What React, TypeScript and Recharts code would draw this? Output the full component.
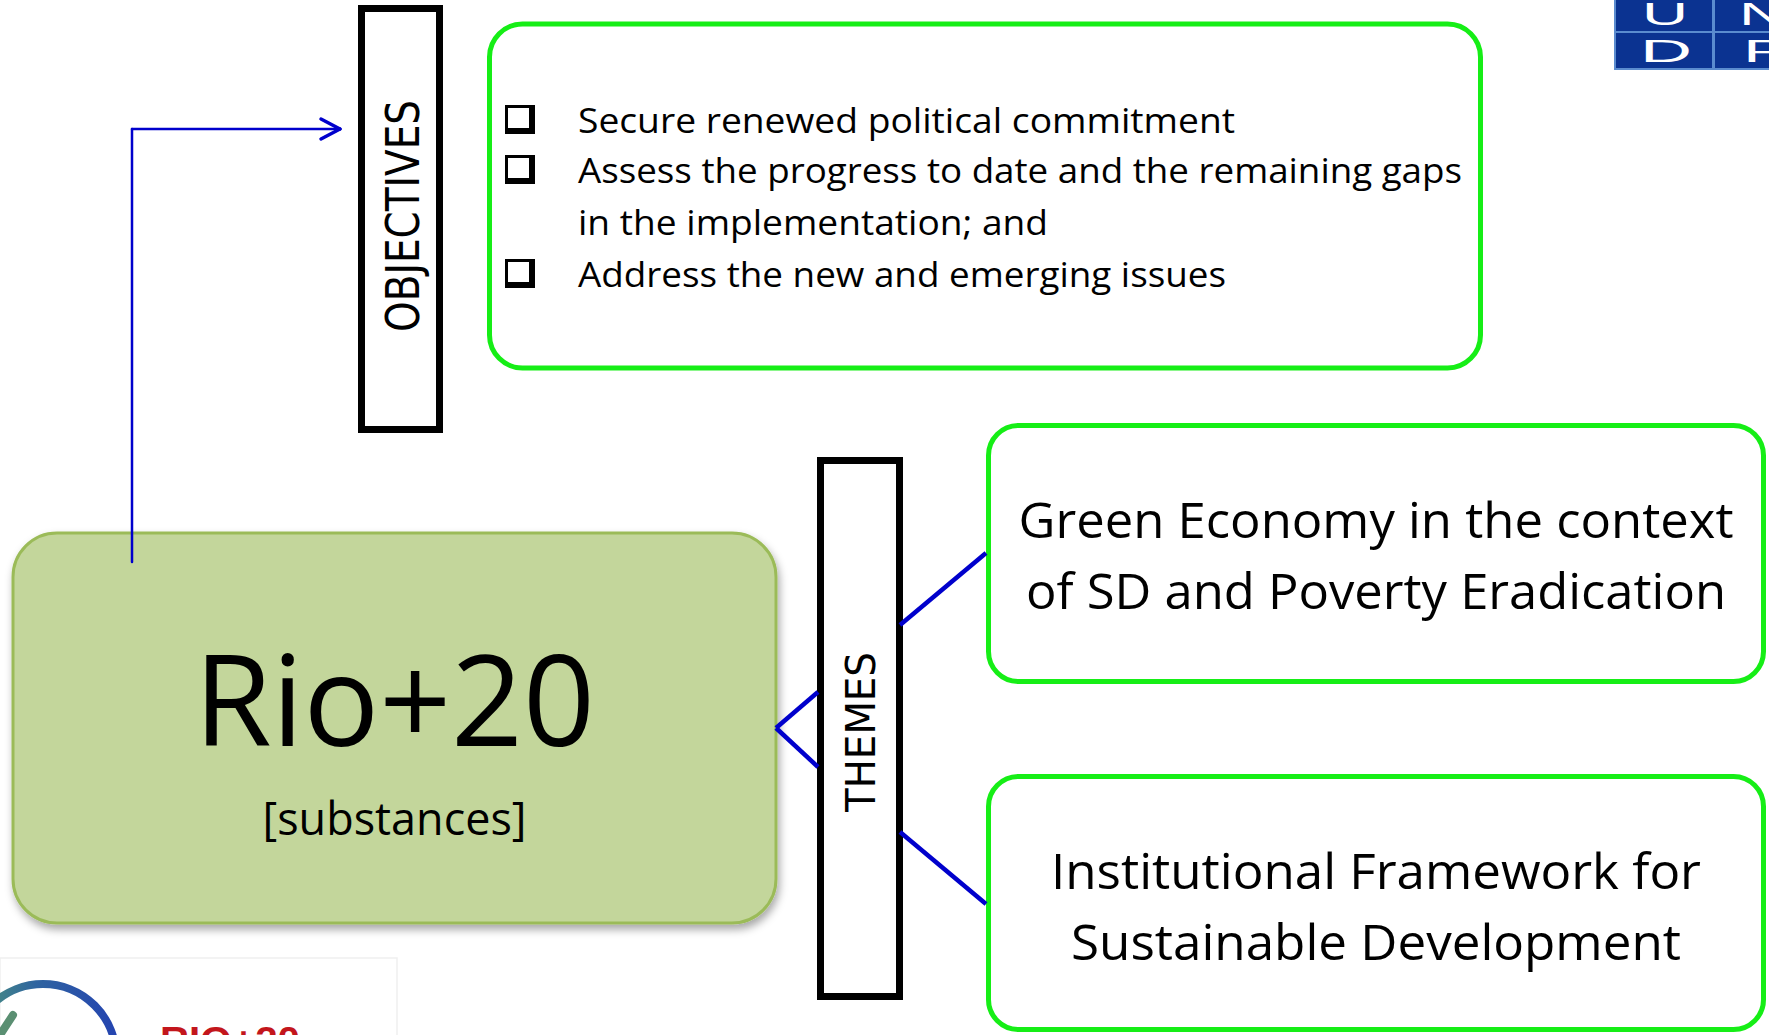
import React from 'react';
import { ComposedChart, XAxis, YAxis, ReferenceArea, ReferenceLine } from 'recharts';

// ---------- content ----------
const hubTitle = 'Rio+20';
const hubSubtitle = '[substances]';
const sideLabels = ['OBJECTIVES', 'THEMES'];
const objectiveLines = [
  'Secure renewed political commitment',
  'Assess the progress to date and the remaining gaps',
  'in the implementation; and',
  'Address the new and emerging issues',
];
const objectiveBullets = [true, true, false, true];
const themeTitles = [
  ['Green Economy in the context', 'of SD and Poverty Eradication'],
  ['Institutional Framework for', 'Sustainable Development'],
];
const logoLetters = ['U', 'N', 'D', 'P'];
const footerLogoText = 'RIO+20';

// ---------- layout / style ----------
const W = 1769;
const H = 1035;
const BODY_FONT = "'Open Sans', 'Noto Sans', sans-serif";
const LABEL_FONT = "'DejaVu Sans', sans-serif";
const GREEN = '#16ee16';
const BLUE = '#0000cc';

const objLabel = { x1: 361.5, x2: 439.5, y1: 8.5, y2: 429.5, tx: 57.5, ty: 207.5, len: 232, fs: 47 };
const themeLabel = { x1: 820.5, x2: 899.5, y1: 460.5, y2: 996.5, tx: 54.5, ty: 271.5, len: 160, fs: 41 };
const objBox = { x1: 489.5, x2: 1480.5, y1: 24, y2: 368, r: 33 };
const objText = { dx: 88.5, baselines: [109, 159, 211, 263], widths: [657, 884, 470, 648], fs: 35, boxDx: 15.5 };
const hub = { x1: 13, x2: 776, y1: 533, y2: 923, r: 44, titleDy: 213, titleW: 401, titleFs: 127, subDy: 302, subW: 264, subFs: 46 };
const themeBoxes = [
  { x1: 988.5, x2: 1763.5, y1: 425.5, y2: 681.5, widths: [715, 700] },
  { x1: 988.5, x2: 1763.5, y1: 776.5, y2: 1029.5, widths: [650, 610] },
];
const themeText = { baselines: [112, 183.5], fs: 49, r: 30 };
const connectors = [
  [[776, 728], [818, 692]],
  [[776, 728], [818, 767]],
  [[900, 625], [986, 553]],
  [[900, 832], [986, 904]],
];
const arrowPath = [
  [[132, 562], [132, 129]],
  [[132, 129], [339, 129]],
  [[321, 119], [340, 129]],
  [[321, 139], [340, 129]],
];
const undp = { x1: 1615, x2: 1769, y1: 0, y2: 69 };
const footer = { x1: 0, x2: 397, y1: 958, y2: 1035 };

const LabelBox = (cfg: any, text: string) => (p: any) => {
  const tx = p.x + cfg.tx;
  const ty = p.y + cfg.ty;
  return (
    <g>
      <rect x={p.x} y={p.y} width={p.width} height={p.height} fill="#fff" stroke="#000" strokeWidth={7} />
      <text
        x={tx}
        y={ty}
        transform={`rotate(-90 ${tx} ${ty})`}
        textAnchor="middle"
        fontFamily={LABEL_FONT}
        fontSize={cfg.fs}
        textLength={cfg.len}
        lengthAdjust="spacingAndGlyphs"
        fill="#000"
      >
        {text}
      </text>
    </g>
  );
};

const ObjectivesShape = (p: any) => (
  <g>
    <rect x={p.x} y={p.y} width={p.width} height={p.height} rx={objBox.r} ry={objBox.r} fill="#fff" stroke={GREEN} strokeWidth={5} />
    {objectiveLines.map((line, i) => {
      const b = p.y + objText.baselines[i];
      const bx = p.x + objText.boxDx;
      return (
        <g key={i}>
          {objectiveBullets[i] && (
            <g>
              <rect x={bx} y={b - 28} width={30} height={29} fill="#000" />
              <rect x={bx + 3} y={b - 25} width={21} height={20} fill="#fff" />
            </g>
          )}
          <text
            x={p.x + objText.dx}
            y={b}
            fontFamily={BODY_FONT}
            fontSize={objText.fs}
            textLength={objText.widths[i]}
            lengthAdjust="spacingAndGlyphs"
            fill="#000"
          >
            {line}
          </text>
        </g>
      );
    })}
  </g>
);

const HubShape = (p: any) => (
  <g>
    <defs>
      <filter id="hubShadow" x="-10%" y="-10%" width="120%" height="125%">
        <feDropShadow dx="2" dy="5" stdDeviation="4" floodColor="#000" floodOpacity="0.35" />
      </filter>
    </defs>
    <rect
      x={p.x}
      y={p.y}
      width={p.width}
      height={p.height}
      rx={hub.r}
      ry={hub.r}
      fill="#c3d69b"
      stroke="#9bbb59"
      strokeWidth={3}
      filter="url(#hubShadow)"
    />
    <text
      x={p.x + p.width / 2}
      y={p.y + hub.titleDy}
      textAnchor="middle"
      fontFamily={BODY_FONT}
      fontSize={hub.titleFs}
      textLength={hub.titleW}
      lengthAdjust="spacingAndGlyphs"
      fill="#000"
    >
      {hubTitle}
    </text>
    <text
      x={p.x + p.width / 2}
      y={p.y + hub.subDy}
      textAnchor="middle"
      fontFamily={BODY_FONT}
      fontSize={hub.subFs}
      textLength={hub.subW}
      lengthAdjust="spacingAndGlyphs"
      fill="#000"
    >
      {hubSubtitle}
    </text>
  </g>
);

const ThemeShape = (idx: number) => (p: any) => (
  <g>
    <rect x={p.x} y={p.y} width={p.width} height={p.height} rx={themeText.r} ry={themeText.r} fill="#fff" stroke={GREEN} strokeWidth={5} />
    {themeTitles[idx].map((line, i) => (
      <text
        key={i}
        x={p.x + p.width / 2}
        y={p.y + themeText.baselines[i]}
        textAnchor="middle"
        fontFamily={BODY_FONT}
        fontSize={themeText.fs}
        textLength={themeBoxes[idx].widths[i]}
        lengthAdjust="spacingAndGlyphs"
        fill="#000"
      >
        {line}
      </text>
    ))}
  </g>
);

const UndpShape = (p: any) => {
  const x = p.x;
  const y = p.y;
  return (
    <g>
      <rect x={x} y={y - 5} width={p.width + 5} height={p.height + 5} fill="#0b3391" stroke="#5b8ccf" strokeWidth={2} />
      <line x1={x + 98.5} y1={y} x2={x + 98.5} y2={y + p.height} stroke="#5b8ccf" strokeWidth={3} />
      <line x1={x} y1={y + 32} x2={x + p.width} y2={y + 32} stroke="#5b8ccf" strokeWidth={2} />
      {logoLetters.map((ch, i) => {
        const col = i % 2;
        const row = i < 2 ? 0 : 1;
        const lx = col === 0 ? x + 25 + (row === 1 ? 0 : 2) : x + 124 + (row === 1 ? 4 : 0);
        const ly = row === 0 ? y + 25 : y + 62;
        const w = row === 1 && col === 0 ? 52 : 46;
        return (
          <text
            key={ch}
            x={lx}
            y={ly}
            fontFamily="'Liberation Sans', sans-serif"
            fontSize={31}
            textLength={w}
            lengthAdjust="spacingAndGlyphs"
            fill="#fff"
          >
            {ch}
          </text>
        );
      })}
    </g>
  );
};

const FooterShape = (p: any) => (
  <g>
    <defs>
      <linearGradient id="ringGrad" x1="0" y1="0" x2="1" y2="0">
        <stop offset="0%" stopColor="#4f9a7a" />
        <stop offset="45%" stopColor="#2f64a0" />
        <stop offset="100%" stopColor="#2444b0" />
      </linearGradient>
    </defs>
    <rect x={p.x} y={p.y} width={p.width} height={p.height + 5} fill="#fff" stroke="#efefef" strokeWidth={1.5} />
    <circle cx={p.x + 43} cy={p.y + 99} r={73} fill="none" stroke="url(#ringGrad)" strokeWidth={8} />
    <line x1={p.x + 13} y1={p.y + 57} x2={p.x - 2} y2={p.y + 80} stroke="#5a8f72" strokeWidth={8} strokeLinecap="round" />
    <text
      x={p.x + 160}
      y={p.y + 95}
      fontFamily="'Liberation Sans', sans-serif"
      fontWeight="bold"
      fontSize={37}
      textLength={140}
      lengthAdjust="spacingAndGlyphs"
      fill="#c3161c"
    >
      {footerLogoText}
    </text>
  </g>
);

export default function App() {
  return (
    <div style={{ position: 'absolute', left: 0, top: 0, width: W, height: H, background: '#fff' }}>
      <ComposedChart width={W} height={H} margin={{ top: 0, right: 0, bottom: 0, left: 0 }} data={[]}>
        <XAxis type="number" dataKey="x" domain={[0, W]} allowDataOverflow hide />
        <YAxis type="number" dataKey="y" domain={[0, H]} allowDataOverflow reversed hide />

        <ReferenceArea x1={footer.x1} x2={footer.x2} y1={footer.y1} y2={footer.y2} ifOverflow="visible" shape={FooterShape} />
        <ReferenceArea x1={objLabel.x1} x2={objLabel.x2} y1={objLabel.y1} y2={objLabel.y2} ifOverflow="visible" shape={LabelBox(objLabel, sideLabels[0])} />
        <ReferenceArea x1={objBox.x1} x2={objBox.x2} y1={objBox.y1} y2={objBox.y2} ifOverflow="visible" shape={ObjectivesShape} />
        <ReferenceArea x1={hub.x1} x2={hub.x2} y1={hub.y1} y2={hub.y2} ifOverflow="visible" shape={HubShape} />
        <ReferenceArea x1={themeLabel.x1} x2={themeLabel.x2} y1={themeLabel.y1} y2={themeLabel.y2} ifOverflow="visible" shape={LabelBox(themeLabel, sideLabels[1])} />
        {themeBoxes.map((b, i) => (
          <ReferenceArea key={`t${i}`} x1={b.x1} x2={b.x2} y1={b.y1} y2={b.y2} ifOverflow="visible" shape={ThemeShape(i)} />
        ))}
        <ReferenceArea x1={undp.x1} x2={undp.x2} y1={undp.y1} y2={undp.y2} ifOverflow="visible" shape={UndpShape} />

        {connectors.map((s, i) => (
          <ReferenceLine
            key={`c${i}`}
            segment={[{ x: s[0][0], y: s[0][1] }, { x: s[1][0], y: s[1][1] }]}
            stroke={BLUE}
            strokeWidth={4.5}
            ifOverflow="visible"
          />
        ))}
        {arrowPath.map((s, i) => (
          <ReferenceLine
            key={`a${i}`}
            segment={[{ x: s[0][0], y: s[0][1] }, { x: s[1][0], y: s[1][1] }]}
            stroke={BLUE}
            strokeWidth={i < 2 ? 2.5 : 3.5}
            strokeLinecap="round"
            ifOverflow="visible"
          />
        ))}
      </ComposedChart>
    </div>
  );
}
